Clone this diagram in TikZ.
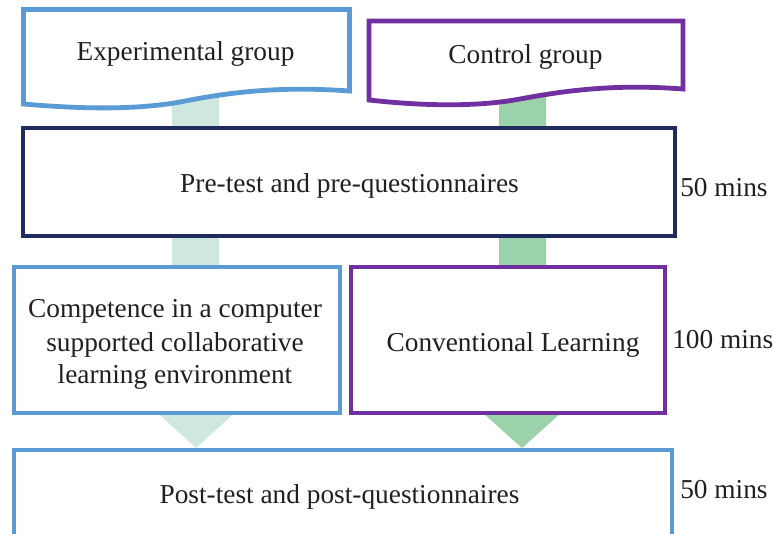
\documentclass[tikz,border=0pt]{standalone}
\usepackage{fontspec}
\setmainfont{Liberation Serif}
\definecolor{cblue}{HTML}{5B9BD5}
\definecolor{cpurple}{HTML}{7030A0}
\definecolor{cnavy}{HTML}{1F2A5E}
\definecolor{bandA}{HTML}{CFE8DF}
\definecolor{bandB}{HTML}{9BD2A9}
\definecolor{ink}{HTML}{231F20}
\begin{document}
\begin{tikzpicture}[x=0.75pt,y=-0.75pt,
  boxline/.style={line width=3pt,fill=white,inner sep=0pt,outer sep=0pt,rectangle},
  txt/.style={text=ink,inner sep=0pt,anchor=base,font=\fontsize{20.5}{24}\selectfont},
  sidetxt/.style={txt,anchor=base west}]
\useasboundingbox (0,0) rectangle (775,533);
\clip (0,0) rectangle (775,533);
% block arrows (behind the boxes)
\coordinate (tipA) at (196,448);
\coordinate (tipB) at (522,448);
\fill[bandA] (172,95) -- (219,95) -- (219,413) -- (234.5,413) -- (tipA) -- (157.5,413) -- (172,413) -- cycle;
\fill[bandB] (499,95) -- (546,95) -- (546,413) -- (561,413) -- (tipB) -- (483,413) -- (499,413) -- cycle;
% document shapes
\draw[cblue,line width=3.6pt,fill=white,line join=miter]
  (23.5,9.5) -- (349.5,9.5) -- (349.5,91)
  .. controls (280,86) and (230,92) .. (180,102)
  .. controls (130,111) and (70,108) .. (23.5,104) -- cycle;
\draw[cpurple,line width=3.6pt,fill=white,line join=miter]
  (369,21) -- (683,21) -- (683,89)
  .. controls (616,84) and (568,90) .. (520,99)
  .. controls (472,108) and (414,105) .. (369,100) -- cycle;
% boxes
\node[boxline,draw=cnavy,line width=3pt,minimum width=489pt,minimum height=81pt] (pre) at (349,182) {};
\node[boxline,draw=cblue,minimum width=244.5pt,minimum height=109.5pt] (comp) at (177,340) {};
\node[boxline,draw=cpurple,minimum width=235.5pt,minimum height=109.5pt] (conv) at (508,340) {};
\node[boxline,draw=cblue,minimum width=493.5pt,minimum height=75pt] (post) at (343,500) {};
% texts
\node[txt] (expT) at (185.5,60) {Experimental group};
\node[txt] (ctlT) at (525.5,63) {Control group};
\node[txt] (preT) at (349.5,192) {Pre-test and pre-questionnaires};
\node[txt] (compT1) at (175,317) {Competence in a computer};
\node[txt] (compT2) at (175,351) {supported collaborative};
\node[txt] (compT3) at (175,383) {learning environment};
\node[txt] (convT) at (513,351) {Conventional Learning};
\node[txt] (postT) at (339.5,503) {Post-test and post-questionnaires};
\node[sidetxt] (t1) at (680,196) {50 mins};
\node[sidetxt] (t2) at (672,348) {100 mins};
\node[sidetxt] (t3) at (680,498) {50 mins};
\end{tikzpicture}
\end{document}
